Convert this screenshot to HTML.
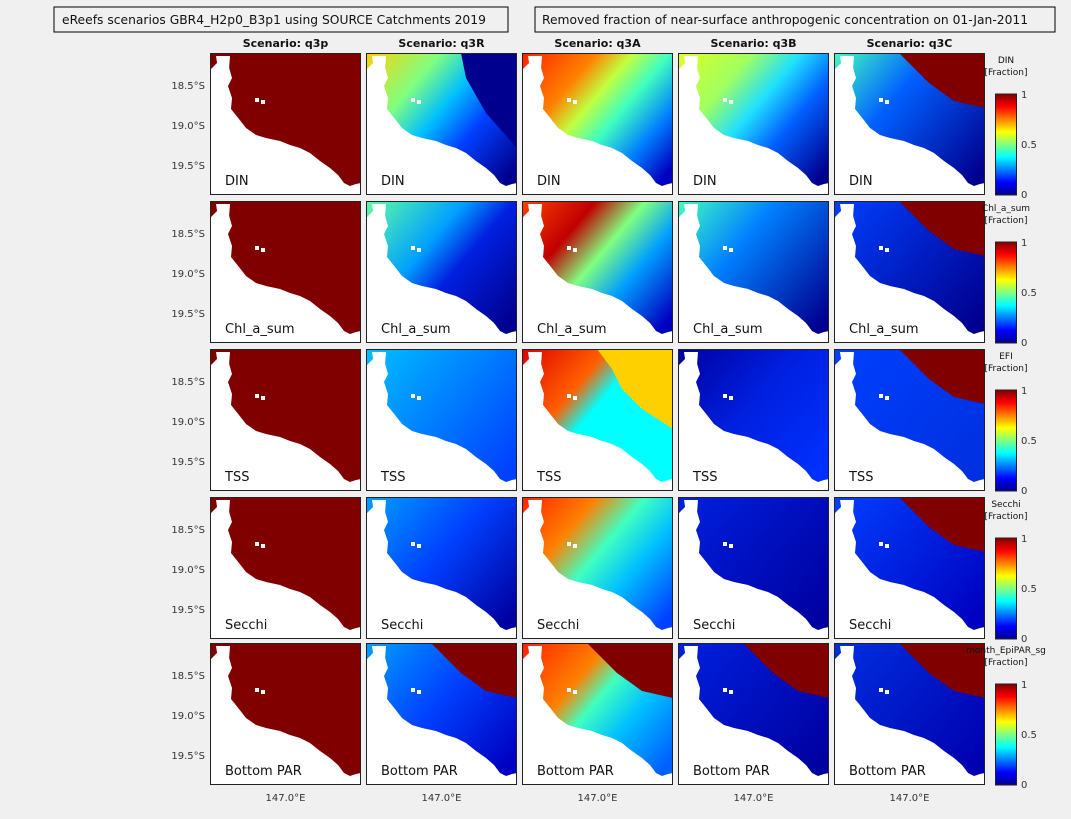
<!DOCTYPE html>
<html><head><meta charset="utf-8"><style>
body{margin:0;background:#f0f0f0;width:1071px;height:814px;overflow:hidden;font-family:"Liberation Sans","DejaVu Sans",sans-serif}
</style></head><body>
<svg id="s" width="1071" height="814" xmlns="http://www.w3.org/2000/svg" font-family="DejaVu Sans, Liberation Sans, sans-serif">
<defs>
<linearGradient id="jet" x1="0" y1="1" x2="0" y2="0">
<stop offset="0" stop-color="#00008f"/><stop offset=".125" stop-color="#0000ff"/><stop offset=".375" stop-color="#00ffff"/><stop offset=".5" stop-color="#80ff80"/><stop offset=".625" stop-color="#ffff00"/><stop offset=".875" stop-color="#ff0000"/><stop offset="1" stop-color="#800000"/>
</linearGradient>
</defs>
<rect x="54" y="7" width="454" height="25" fill="#f0f0f0" stroke="#000"/>
<text x="62" y="24" font-size="12.3" fill="#111">eReefs scenarios GBR4_H2p0_B3p1 using SOURCE Catchments 2019</text>
<rect x="535" y="7" width="520" height="25" fill="#f0f0f0" stroke="#000"/>
<text x="542" y="24" font-size="12.3" fill="#111">Removed fraction of near-surface anthropogenic concentration on 01-Jan-2011</text>
</svg>
<script>
var s=document.getElementById('s'),NS='http://www.w3.org/2000/svg',defs=s.querySelector('defs');
function el(t,a,p){var e=document.createElementNS(NS,t);for(var k in a)e.setAttribute(k,a[k]);(p||s).appendChild(e);return e;}
var cols=[210,366,522,678,834],rows=[53,201,349,497,643],W=151,H=142;
var scen=['q3p','q3R','q3A','q3B','q3C'],vars=['DIN','Chl_a_sum','TSS','Secchi','Bottom PAR'],cbn=['DIN','Chl_a_sum','EFI','Secchi','month_EpiPAR_sg'];
var DR='#800000';
var G=[
[null,[[0,'#ffd000'],[.3,'#80ff80'],[.5,'#00c0ff'],[.7,'#0040ff'],[1,'#00008f']],[[0,'#ff2000'],[.3,'#ff8000'],[.45,'#c0ff40'],[.6,'#40ffc0'],[.8,'#0080ff'],[1,'#0000c0']],[[0,'#e0ff20'],[.3,'#a0ff60'],[.5,'#20e0ff'],[.7,'#0060ff'],[1,'#00008f']],[[0,'#40ffc0'],[.4,'#0060ff'],[1,'#00008f']]],
[null,[[0,'#60ffa0'],[.4,'#00a0ff'],[.6,'#0020e0'],[1,'#00008f']],[[0,'#ff4000'],[.3,'#c00000'],[.5,'#80ff80'],[.7,'#00a0ff'],[1,'#0000c0']],[[0,'#40ffc0'],[.4,'#0080ff'],[1,'#00008f']],[[0,'#0040ff'],[1,'#00008f']]],
[null,[[0,'#00c0ff'],[.5,'#0080ff'],[1,'#0040ff']],[[0,'#e00000'],[.35,'#ff6000'],[.5,'#00ffff'],[1,'#00ffff']],[[0,'#0000a0'],[.5,'#0020e0'],[1,'#0030ff']],[[0,'#0040ff'],[1,'#0030e0']]],
[null,[[0,'#00a0ff'],[.5,'#0040ff'],[1,'#0000a0']],[[0,'#ff2000'],[.3,'#ff8000'],[.5,'#40ffc0'],[.7,'#00c0ff'],[1,'#0040ff']],[[0,'#0020e0'],[1,'#0000a0']],[[0,'#0040ff'],[1,'#0000c0']]],
[null,[[0,'#00a0ff'],[.5,'#0040ff'],[1,'#0000c0']],[[0,'#ff2000'],[.35,'#ff8000'],[.5,'#40ffc0'],[.7,'#00c0ff'],[1,'#0060ff']],[[0,'#0020e0'],[1,'#0000a0']],[[0,'#0030e0'],[1,'#0000b0']]]];
var TR={'0,4':DR,'1,4':DR,'2,2':'#ffd000','2,4':DR,'3,4':DR,'4,1':DR,'4,2':DR,'4,3':DR,'4,4':DR,'0,1':'#00008f'};
var land='0,17 7,10 18,11 22,25 18,33 22,45 21,56 29,66 36,75 46,82 56,85 70,88 80,92 90,95 100,100 110,108 120,115 128,122 134,130 140,133 146,131 151,130 151,142 0,142';
var isl='6,3 20,3 18,30 12,28 8,16';
for(var r=0;r<5;r++){for(var c=0;c<5;c++){
 var x=cols[c],y=rows[r],g=el('g',{transform:'translate('+x+','+y+')'});
 var fill=DR;
 if(G[r][c]){var id='g'+r+c,lg=el('linearGradient',{id:id,x1:0,y1:0,x2:1,y2:.8},defs);G[r][c].forEach(function(st){el('stop',{offset:st[0],'stop-color':st[1]},lg)});fill='url(#'+id+')';}
 el('rect',{x:0,y:0,width:W,height:H,fill:fill},g);
 var t=TR[r+','+c];
 if(t){var pts=(r==4||c==4)?'65,0 151,0 151,55 120,48 95,30 80,15':'90,0 151,0 151,45 125,25';
  if(r==2&&c==2)pts='75,0 151,0 151,80 120,60 100,40 90,20';
  if(r==0&&c==1)pts='95,0 151,0 151,95 120,60 100,25';
  el('polygon',{points:pts,fill:t},g);}
 el('polygon',{points:land,fill:'#fff'},g);
 el('polygon',{points:isl,fill:'#fff'},g);
 el('rect',{x:45,y:45,width:4,height:4,fill:'#fff'},g);el('rect',{x:51,y:47,width:4,height:4,fill:'#fff'},g);
 el('rect',{x:.5,y:.5,width:W-1,height:H-1,fill:'none',stroke:'#222'},g);
 var tx=el('text',{x:15,y:H-10,'font-size':13,fill:'#111'},g);tx.textContent=vars[r];
 if(r==0){var h=el('text',{x:x+W/2,y:47,'font-size':11,'font-weight':'bold','text-anchor':'middle',fill:'#111'});h.textContent='Scenario: '+scen[c];}
 if(r==4){var b=el('text',{x:x+W/2,y:801,'font-size':10,'text-anchor':'middle',fill:'#333'});b.textContent='147.0°E';}
}
 ['18.5°S','19.0°S','19.5°S'].forEach(function(l,i){var t=el('text',{x:205,y:rows[r]+36+i*40,'font-size':10,'text-anchor':'end',fill:'#333'});t.textContent=l;});
 var cy=rows[r]+41;
 el('rect',{x:995.5,y:cy,width:21,height:101,fill:'url(#jet)',stroke:'#222'});
 var n=el('text',{x:1006,y:rows[r]+10,'font-size':9,'text-anchor':'middle',fill:'#111'});n.textContent=cbn[r];
 var f=el('text',{x:1006,y:rows[r]+22,'font-size':9,'text-anchor':'middle',fill:'#111'});f.textContent='[Fraction]';
 [['1',cy+4],['0.5',cy+54],['0',cy+104]].forEach(function(a){var t=el('text',{x:1021,y:a[1],'font-size':10,fill:'#333'});t.textContent=a[0];});
}
</script>
</body></html>
